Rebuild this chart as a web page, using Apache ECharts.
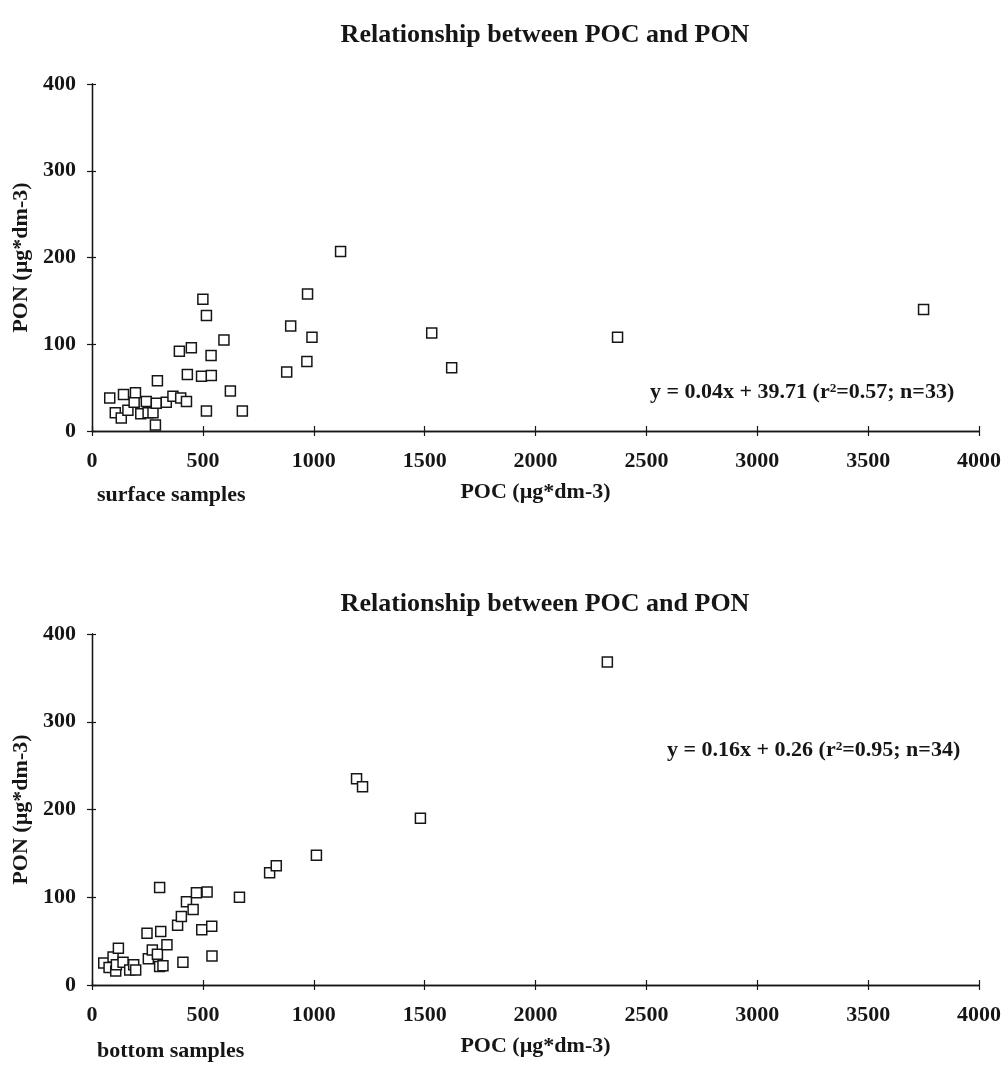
<!DOCTYPE html>
<html>
<head>
<meta charset="utf-8">
<script src="https://cdn.jsdelivr.net/npm/echarts@6/dist/echarts.min.js"></script>
<style>
  html, body { margin: 0; padding: 0; background: #fff; }
  #chart { width: 1005px; height: 1073px; }
</style>
</head>
<body>
<div id="chart"></div>
<script>
// POC / PON pairs, µg*dm-3
const surfacePOC = [80, 105, 132, 142, 162, 190, 196, 220, 245, 253, 275, 286, 290, 295, 335, 365, 400, 426,
  394, 448, 430, 494, 538, 516, 500, 516, 537, 595, 624, 678, 878, 896, 969, 972, 992, 1121, 1532, 1622, 2370, 3750];
const surfacePON = [38, 21, 15, 42, 24, 33, 44, 20, 34, 21, 21, 7, 32, 58, 33, 40, 38, 34,
  92, 96, 65, 63, 64, 23, 152, 133, 87, 105, 46, 23, 68, 121, 80, 158, 108, 207, 113, 73, 108, 140];

const bottomPOC = [53, 77, 95, 107, 110, 119, 140, 170, 188, 197, 248, 254, 272, 295, 305, 305, 310, 320, 338,
  386, 403, 410, 426, 456, 471, 495, 519, 540, 541, 665, 801, 831, 1012, 1193, 1220, 1481, 2324];
const bottomPON = [25, 20, 32, 16, 23, 42, 26, 17, 23, 17, 59, 30, 40, 35, 111, 21, 61, 22, 46,
  68, 78, 26, 95, 86, 105, 63, 106, 67, 33, 100, 128, 136, 148, 235, 226, 190, 368];

const xTicks = { min: 0, max: 4000, interval: 500 };
const yTicks = { min: 0, max: 400, interval: 100 };

const titleText = 'Relationship between POC and PON';
const axisNameX = 'POC (µg*dm-3)';
const axisNameY = 'PON (µg*dm-3)';
const surfaceFit = 'y = 0.04x + 39.71 (r²=0.57; n=33)';
const bottomFit = 'y = 0.16x + 0.26 (r²=0.95; n=34)';

const serif = '"Liberation Serif", "DejaVu Serif", serif';
const ink = '#161616';

const grids = [
  { left: 92, right: 26, top: 84, height: 347 },
  { left: 92, right: 26, top: 634, height: 351 }
];

function pairs(xs, ys) { return xs.map((x, i) => [x, ys[i]]); }
const plain = v => String(v);

function xAxes(gi) {
  const base = {
    type: 'value', gridIndex: gi, min: xTicks.min, max: xTicks.max, interval: xTicks.interval,
    splitLine: { show: false },
    axisLine: { show: true, onZero: false, lineStyle: { color: ink, width: 1.3 } }
  };
  return [
    Object.assign({}, base, {
      position: 'bottom',
      axisTick: { show: true, length: 5, lineStyle: { color: ink, width: 1.2 } },
      axisLabel: { color: ink, fontFamily: serif, fontWeight: 'bold', fontSize: 22, margin: 19, formatter: plain },
      name: axisNameX, nameLocation: 'middle', nameGap: 50,
      nameTextStyle: { color: ink, fontFamily: serif, fontWeight: 'bold', fontSize: 22 }
    }),
    Object.assign({}, base, {
      position: 'bottom',
      axisTick: { show: true, inside: true, length: 5, lineStyle: { color: ink, width: 1.2 } },
      axisLabel: { show: false }
    })
  ];
}

function yAxes(gi) {
  const base = {
    type: 'value', gridIndex: gi, min: yTicks.min, max: yTicks.max, interval: yTicks.interval,
    position: 'left',
    splitLine: { show: false },
    axisLine: { show: true, onZero: false, lineStyle: { color: ink, width: 1.3 } }
  };
  return [
    Object.assign({}, base, {
      axisTick: { show: true, length: 5, lineStyle: { color: ink, width: 1.2 } },
      axisLabel: { color: ink, fontFamily: serif, fontWeight: 'bold', fontSize: 22, margin: 16, formatter: plain },
      name: axisNameY, nameLocation: 'middle', nameGap: 59, nameRotate: 90,
      nameTextStyle: { color: ink, fontFamily: serif, fontWeight: 'bold', fontSize: 22 }
    }),
    Object.assign({}, base, {
      axisTick: { show: true, inside: true, length: 4, lineStyle: { color: ink, width: 1.2 } },
      axisLabel: { show: false }
    })
  ];
}

function scatter(gi, data) {
  return {
    type: 'scatter', xAxisIndex: gi * 2, yAxisIndex: gi * 2, data: data,
    symbol: 'rect', symbolSize: 10,
    itemStyle: { color: '#ffffff', borderColor: ink, borderWidth: 1.5, opacity: 1 },
    silent: true
  };
}

const titleStyle = { color: ink, fontFamily: serif, fontWeight: 'bold', fontSize: 26 };
const noteStyle = { fill: ink, font: 'bold 22px ' + serif };

const chart = echarts.init(document.getElementById('chart'), null, { renderer: 'canvas' });
chart.setOption({
  animation: false,
  backgroundColor: '#ffffff',
  title: [
    { text: titleText, left: 540, top: 17, textAlign: 'center', textStyle: titleStyle },
    { text: titleText, left: 540, top: 586, textAlign: 'center', textStyle: titleStyle }
  ],
  grid: grids,
  xAxis: xAxes(0).concat(xAxes(1)),
  yAxis: yAxes(0).concat(yAxes(1)),
  series: [
    scatter(0, pairs(surfacePOC, surfacePON)),
    scatter(1, pairs(bottomPOC, bottomPON))
  ],
  graphic: [
    { type: 'text', left: 650, top: 381, style: Object.assign({ text: surfaceFit }, noteStyle) },
    { type: 'text', left: 667, top: 739, style: Object.assign({ text: bottomFit }, noteStyle) },
    { type: 'text', left: 97, top: 484, style: Object.assign({ text: 'surface samples' }, noteStyle) },
    { type: 'text', left: 97, top: 1040, style: Object.assign({ text: 'bottom samples' }, noteStyle) }
  ]
});
</script>
</body>
</html>
